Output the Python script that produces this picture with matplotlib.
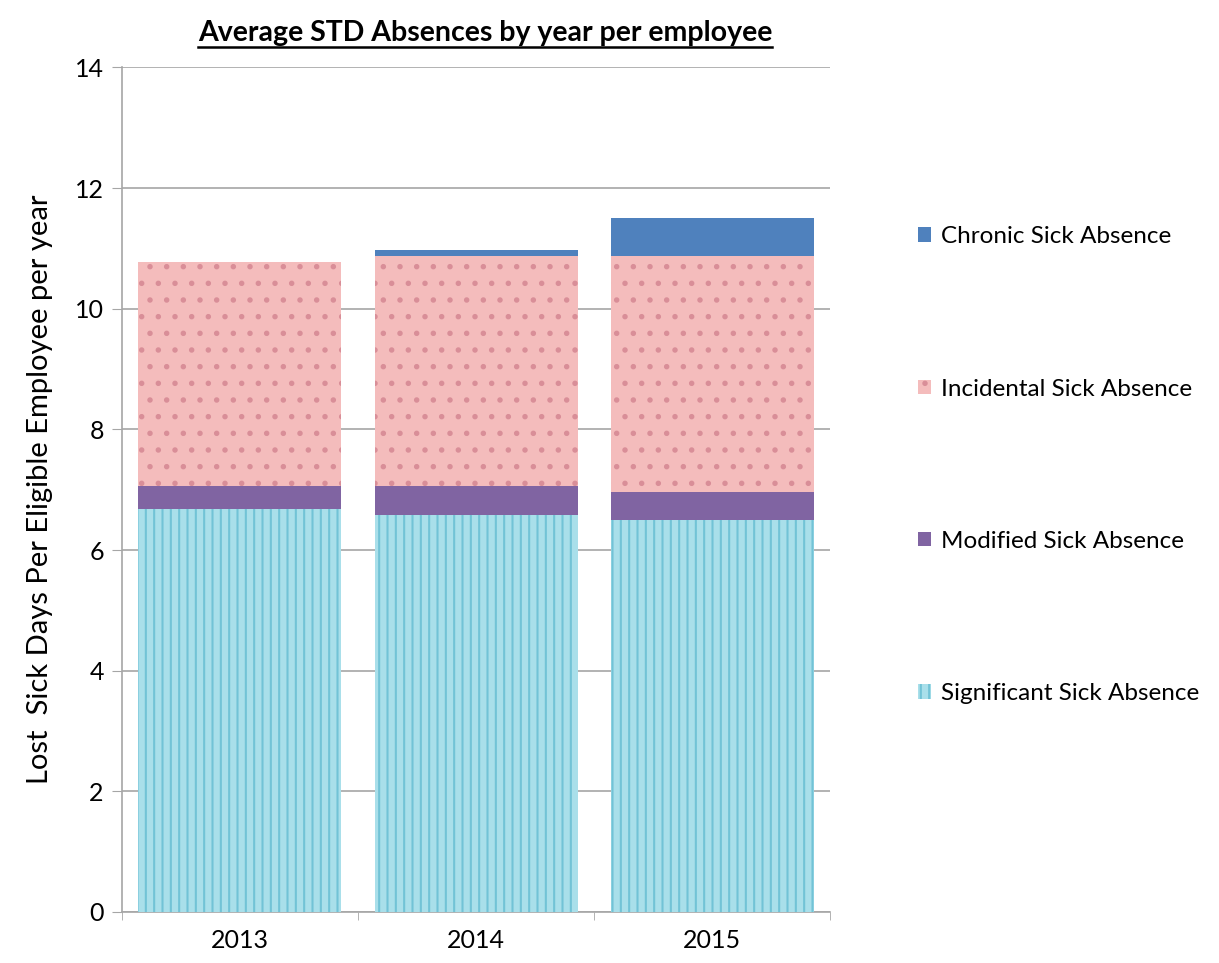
import matplotlib
matplotlib.use('Agg')
import matplotlib.pyplot as plt
import numpy as np
from matplotlib.lines import Line2D

years = ['2013', '2014', '2015']
significant = [6.68, 6.58, 6.49]
modified = [0.38, 0.48, 0.47]
incidental = [3.71, 3.82, 3.92]
chronic = [0.0, 0.10, 0.62]
series_names = ['Significant Sick Absence', 'Modified Sick Absence',
                'Incidental Sick Absence', 'Chronic Sick Absence']

plt.rcParams['font.family'] = ['Lato', 'DejaVu Sans']
plt.rcParams['hatch.linewidth'] = 1.5

fig = plt.figure(figsize=(12.19, 9.63), dpi=100)
ax = fig.add_axes([0.100, 0.053, 0.581, 0.877])

x = np.arange(len(years))
w = 0.86
bottom = np.zeros(len(years))
styles = [
    dict(color='#a9dfea', edgecolor='#72c3d6', hatch='||'),
    dict(color='#8064a2', edgecolor='#8064a2', hatch=None),
    dict(color='#f4bcbc', edgecolor='#d98e98', hatch='.'),
    dict(color='#4f81bd', edgecolor='#4f81bd', hatch=None),
]
handles = []
for vals, name, st in zip([significant, modified, incidental, chronic], series_names, styles):
    b = ax.bar(x, vals, w, bottom=bottom, facecolor=st['color'], edgecolor=st['edgecolor'],
               hatch=st['hatch'], linewidth=0, label=name, zorder=3)
    handles.append(b)
    bottom += np.array(vals)

ax.set_xlim(-0.5, 2.5)
ax.set_ylim(0, 14)
ax.set_yticks(range(0, 15, 2))
ax.yaxis.grid(True, color='#a6a6a6', linewidth=1.2, zorder=0)
for s in ['top', 'right']:
    ax.spines[s].set_visible(False)
for s in ['left', 'bottom']:
    ax.spines[s].set_color('#a6a6a6')
    ax.spines[s].set_linewidth(1.2)
ax.set_xticks(x)
ax.set_xticklabels(years)
ax.set_xticks([-0.5, 0.5, 1.5, 2.5], minor=True)
ax.tick_params(axis='x', which='major', length=0, labelsize=18, pad=12)
ax.tick_params(axis='x', which='minor', length=6, color='#a6a6a6', direction='out')
ax.tick_params(axis='y', length=7, color='#a6a6a6', labelsize=18, pad=6)
ax.set_ylabel('Lost  Sick Days Per Eligible Employee per year', fontsize=21, labelpad=16)

leg = fig.legend(handles[::-1], series_names[::-1], loc='center left',
                 bbox_to_anchor=(0.735, 0.517), frameon=False, fontsize=17.5,
                 labelspacing=5.4, handlelength=0.55, handleheight=0.55, handletextpad=0.4)

t = fig.text(0.398, 0.966, 'Average STD Absences by year per employee', ha='center',
             va='center', fontsize=20.5, fontweight='bold')
fig.canvas.draw()
bb = t.get_window_extent().transformed(fig.transFigure.inverted())
fig.add_artist(Line2D([bb.x0, bb.x1], [bb.y0 - 0.001, bb.y0 - 0.001], color='black', linewidth=1.8))

fig.savefig('out.png', dpi=100)
